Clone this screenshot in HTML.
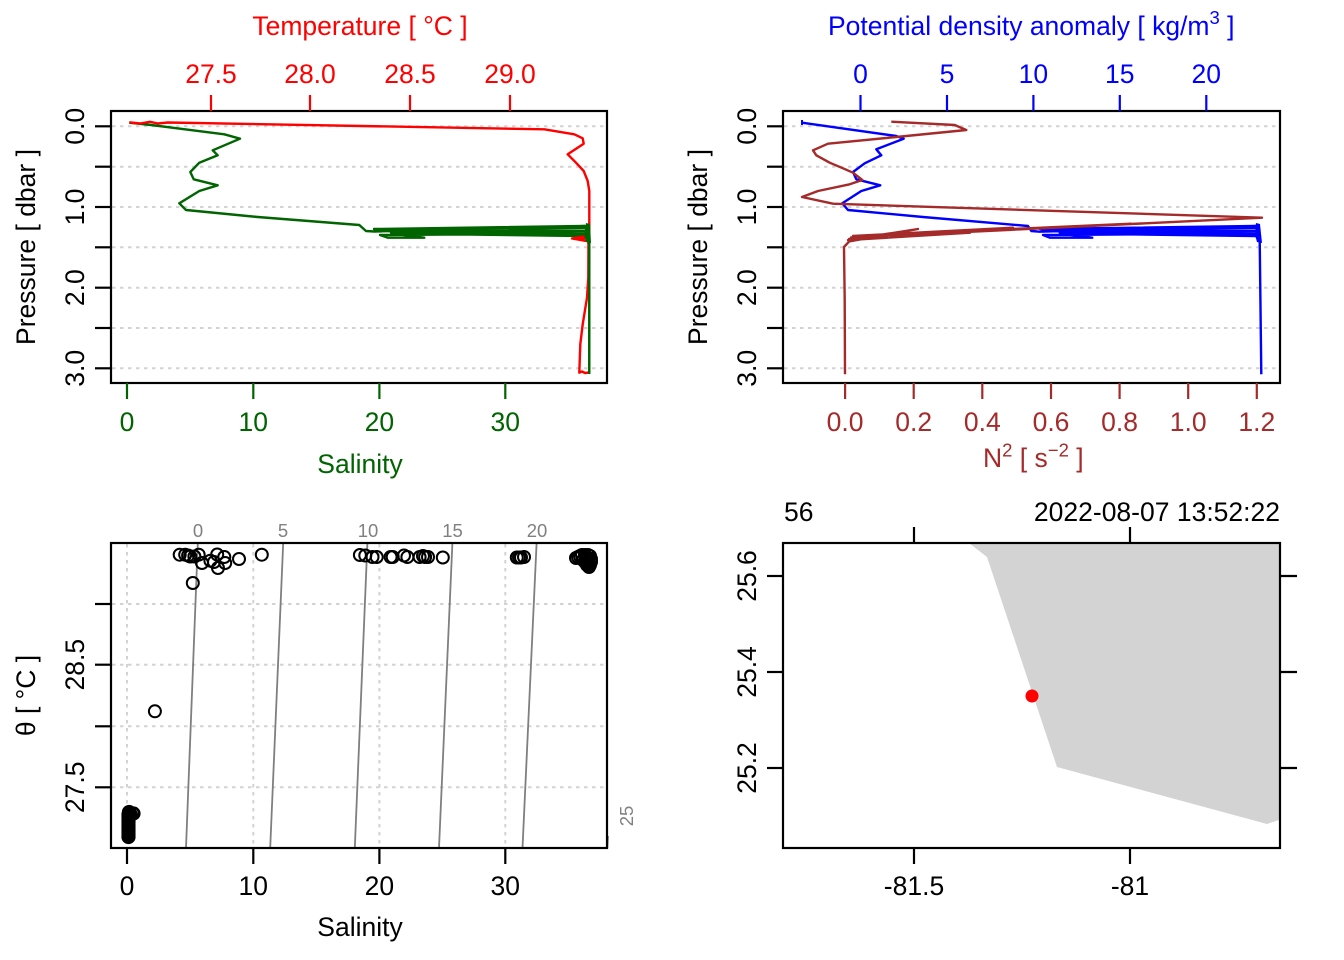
<!DOCTYPE html>
<html><head><meta charset="utf-8"><style>
html,body{margin:0;padding:0;background:#fff;}
svg{display:block;}
text{font-family:"Liberation Sans",Arial,sans-serif;}
</style></head><body>
<svg width="1344" height="960" viewBox="0 0 1344 960" xmlns="http://www.w3.org/2000/svg">
<rect width="1344" height="960" fill="#fff"/>

<!-- ============ PANEL 1 ============ -->
<g stroke="#d3d3d3" stroke-width="2" stroke-dasharray="3.5,4.5">
<line x1="112" y1="126.3" x2="607" y2="126.3"/>
<line x1="112" y1="166.7" x2="607" y2="166.7"/>
<line x1="112" y1="207" x2="607" y2="207"/>
<line x1="112" y1="247.3" x2="607" y2="247.3"/>
<line x1="112" y1="287.7" x2="607" y2="287.7"/>
<line x1="112" y1="328" x2="607" y2="328"/>
<line x1="112" y1="368.3" x2="607" y2="368.3"/>
</g>
<path d="M129.3,122.7 L151,125 L224.3,134.3 L240,138.7 L212.7,150.3 L217.7,155.3 L199.3,162.7 L190.3,172 L193.7,179.3 L217.7,185.3 L199.3,191 L179.3,203.3 L186,210 L257.7,217 L359.3,225 L366,231 L374.3,231.5 L585,226 L374,229 L585,228 L376,230.5 L585,231 L391,232.7 L585,233.5 L380,235 L388,237.7 L424.3,237.7 L392,233.5 L585,236 L588,240 L589.3,250 L589.3,374" fill="none" stroke="#006400" stroke-width="2.4" stroke-linejoin="round"/>
<path d="M129.3,122.3 L140,123.5 L150,121.8 L158,123.5 L167.7,122.5 L544.3,129.3 L574.3,134.3 L582.7,138.3 L583.7,143.7 L567.7,154.3 L576,162.7 L583.7,171 L587.7,181 L589.3,191 L589.3,233 L586,236 L572,238.5 L586,241 L588.5,238 L588.3,277.7 L587,297.7 L582.7,324.3 L580.3,344.3 L579.3,372.7 L582,371.5 L585,373 L589,372.5" fill="none" stroke="#ff0000" stroke-width="2.4" stroke-linejoin="round"/>
<path d="M575,238 L585,235 L585,241 Z" fill="#ff0000"/>
<path d="M586,223 L590,224 L591,243 L586,242 L584,235 Z" fill="#006400"/>
<line x1="589.3" y1="240" x2="589.3" y2="374" stroke="#006400" stroke-width="2.4"/>
<rect x="111" y="111" width="496" height="272" fill="none" stroke="#000" stroke-width="2.2"/>
<!-- left ticks -->
<g stroke="#000" stroke-width="2.2">
<line x1="95" y1="126.3" x2="111" y2="126.3"/><line x1="95" y1="166.7" x2="111" y2="166.7"/>
<line x1="95" y1="207" x2="111" y2="207"/><line x1="95" y1="247.3" x2="111" y2="247.3"/>
<line x1="95" y1="287.7" x2="111" y2="287.7"/><line x1="95" y1="328" x2="111" y2="328"/>
<line x1="95" y1="368.3" x2="111" y2="368.3"/>
</g>
<g stroke="#ff0000" stroke-width="2.2">
<line x1="211" y1="95" x2="211" y2="111"/><line x1="310" y1="95" x2="310" y2="111"/>
<line x1="410" y1="95" x2="410" y2="111"/><line x1="510" y1="95" x2="510" y2="111"/>
</g>
<g stroke="#006400" stroke-width="2.2">
<line x1="127" y1="383" x2="127" y2="399"/><line x1="253.3" y1="383" x2="253.3" y2="399"/>
<line x1="379.4" y1="383" x2="379.4" y2="399"/><line x1="505.3" y1="383" x2="505.3" y2="399"/>
</g>
<g font-size="26.5" fill="#ff0000" text-anchor="middle">
<text x="360" y="35">Temperature [ °C ]</text>
<text x="211" y="83">27.5</text><text x="310" y="83">28.0</text>
<text x="410" y="83">28.5</text><text x="510" y="83">29.0</text>
</g>
<g font-size="26.5" fill="#006400" text-anchor="middle">
<text x="127" y="431">0</text><text x="253.3" y="431">10</text>
<text x="379.4" y="431">20</text><text x="505.3" y="431">30</text>
<text x="360" y="473">Salinity</text>
</g>
<g font-size="26.5" fill="#000" text-anchor="middle">
<text transform="translate(84,126.3) rotate(-90)">0.0</text>
<text transform="translate(84,207) rotate(-90)">1.0</text>
<text transform="translate(84,287.7) rotate(-90)">2.0</text>
<text transform="translate(84,368.3) rotate(-90)">3.0</text>
<text transform="translate(35,247) rotate(-90)">Pressure [ dbar ]</text>
</g>

<!-- ============ PANEL 2 ============ -->
<g stroke="#d3d3d3" stroke-width="2" stroke-dasharray="3.5,4.5">
<line x1="784" y1="126.3" x2="1279" y2="126.3"/>
<line x1="784" y1="166.7" x2="1279" y2="166.7"/>
<line x1="784" y1="207" x2="1279" y2="207"/>
<line x1="784" y1="247.3" x2="1279" y2="247.3"/>
<line x1="784" y1="287.7" x2="1279" y2="287.7"/>
<line x1="784" y1="328" x2="1279" y2="328"/>
<line x1="784" y1="368.3" x2="1279" y2="368.3"/>
</g>
<path d="M802,122.7 L896.3,136 L903.7,138.7 L876.3,149.3 L881.3,155.3 L864.7,163.3 L853,172 L856.3,179.3 L880.3,185.3 L861.3,191 L842.3,203.3 L848,210 L923,217 L1028,226 L1031.3,231 L1039.7,231.7 L1256,226 L1040,229 L1256,228 L1042,230.5 L1256,231 L1059.7,232.7 L1256,233.5 L1043,235 L1050,237.7 L1092.3,237.7 L1060,233.5 L1256,236 L1259.7,240 L1261.3,374.3" fill="none" stroke="#0000ff" stroke-width="2.4" stroke-linejoin="round"/>
<path d="M1256,223 L1260,224 L1262,243 L1257,242 L1255,235 Z" fill="#0000ff"/>
<line x1="802" y1="120" x2="802" y2="125" stroke="#0000ff" stroke-width="2"/>
<path d="M891.3,121.7 L954.7,125 L966.3,130 L896.3,137 L828,143.7 L813,150.3 L816.3,155.3 L829.7,162.7 L843,168.3 L853,172.7 L862.3,180 L849.7,184.3 L818,191 L802,197 L833,203.7 L1262,217.7 L851,237.5 L1131,223.7 L853,236 L1013,227.7 L849,239 L970,232.7 L848,240 L918,229 L849,241.5 L848,242.7 L844,247 L844.7,300 L845,374.3" fill="none" stroke="#a52a2a" stroke-width="2.4" stroke-linejoin="round"/>
<rect x="783" y="111" width="497" height="272" fill="none" stroke="#000" stroke-width="2.2"/>
<g stroke="#000" stroke-width="2.2">
<line x1="767" y1="126.3" x2="783" y2="126.3"/><line x1="767" y1="166.7" x2="783" y2="166.7"/>
<line x1="767" y1="207" x2="783" y2="207"/><line x1="767" y1="247.3" x2="783" y2="247.3"/>
<line x1="767" y1="287.7" x2="783" y2="287.7"/><line x1="767" y1="328" x2="783" y2="328"/>
<line x1="767" y1="368.3" x2="783" y2="368.3"/>
</g>
<g stroke="#0000ff" stroke-width="2.2">
<line x1="860.5" y1="95" x2="860.5" y2="111"/><line x1="947" y1="95" x2="947" y2="111"/>
<line x1="1033.4" y1="95" x2="1033.4" y2="111"/><line x1="1119.8" y1="95" x2="1119.8" y2="111"/>
<line x1="1206.3" y1="95" x2="1206.3" y2="111"/>
</g>
<g stroke="#a52a2a" stroke-width="2.2">
<line x1="845.1" y1="383" x2="845.1" y2="399"/><line x1="913.7" y1="383" x2="913.7" y2="399"/>
<line x1="982.3" y1="383" x2="982.3" y2="399"/><line x1="1051" y1="383" x2="1051" y2="399"/>
<line x1="1119.6" y1="383" x2="1119.6" y2="399"/><line x1="1188.2" y1="383" x2="1188.2" y2="399"/>
<line x1="1256.8" y1="383" x2="1256.8" y2="399"/>
</g>
<g font-size="26.5" fill="#0000ff">
<text x="828" y="35">Potential density anomaly [ kg/m<tspan font-size="18.5" dy="-11">3</tspan><tspan dy="11"> ]</tspan></text>
</g>
<g font-size="26.5" fill="#0000ff" text-anchor="middle">
<text x="860.5" y="83">0</text><text x="947" y="83">5</text>
<text x="1033.4" y="83">10</text><text x="1119.8" y="83">15</text><text x="1206.3" y="83">20</text>
</g>
<g font-size="26.5" fill="#a52a2a" text-anchor="middle">
<text x="845.1" y="431">0.0</text><text x="913.7" y="431">0.2</text>
<text x="982.3" y="431">0.4</text><text x="1051" y="431">0.6</text>
<text x="1119.6" y="431">0.8</text><text x="1188.2" y="431">1.0</text>
<text x="1256.8" y="431">1.2</text>
</g>
<text x="983" y="467" font-size="26.5" fill="#a52a2a">N<tspan font-size="18.5" dy="-10.5">2</tspan><tspan dy="10.5"> [ s</tspan><tspan font-size="18.5" dy="-10.5">−2</tspan><tspan dy="10.5"> ]</tspan></text>
<g font-size="26.5" fill="#000" text-anchor="middle">
<text transform="translate(756,126.3) rotate(-90)">0.0</text>
<text transform="translate(756,207) rotate(-90)">1.0</text>
<text transform="translate(756,287.7) rotate(-90)">2.0</text>
<text transform="translate(756,368.3) rotate(-90)">3.0</text>
<text transform="translate(707,247) rotate(-90)">Pressure [ dbar ]</text>
</g>

<!-- ============ PANEL 3 ============ -->
<g stroke="#d3d3d3" stroke-width="2" stroke-dasharray="3.5,4.5">
<line x1="127" y1="544" x2="127" y2="847"/>
<line x1="253.3" y1="544" x2="253.3" y2="847"/>
<line x1="379.4" y1="544" x2="379.4" y2="847"/>
<line x1="505.3" y1="544" x2="505.3" y2="847"/>
<line x1="112" y1="604" x2="607" y2="604"/>
<line x1="112" y1="664.7" x2="607" y2="664.7"/>
<line x1="112" y1="726.3" x2="607" y2="726.3"/>
<line x1="112" y1="787.3" x2="607" y2="787.3"/>
</g>
<g stroke="#7f7f7f" stroke-width="1.8">
<line x1="197.8" y1="543" x2="186" y2="848"/>
<line x1="283.2" y1="543" x2="270.2" y2="848"/>
<line x1="367.4" y1="543" x2="354.8" y2="848"/>
<line x1="452.4" y1="543" x2="439" y2="848"/>
<line x1="536.6" y1="543" x2="522.5" y2="848"/>
<line x1="608" y1="836" x2="607.4" y2="848"/>
</g>
<g font-size="18.5" fill="#808080" text-anchor="middle">
<text x="198" y="537">0</text><text x="283" y="537">5</text>
<text x="368" y="537">10</text><text x="452.5" y="537">15</text>
<text x="537" y="537">20</text>
<text transform="translate(633,816) rotate(-90)">25</text>
</g>
<g fill="none" stroke="#000" stroke-width="2">
<circle cx="179.7" cy="554.7" r="6"/><circle cx="185.2" cy="554.7" r="6"/>
<circle cx="188.1" cy="555.5" r="6"/><circle cx="190.2" cy="556.5" r="6"/>
<circle cx="194.4" cy="556.5" r="6"/><circle cx="198.7" cy="554.7" r="6"/>
<circle cx="202" cy="563" r="6"/><circle cx="210.4" cy="560.7" r="6"/>
<circle cx="217.2" cy="554.5" r="6"/><circle cx="218" cy="568" r="6"/>
<circle cx="214" cy="562" r="6"/>
<circle cx="224.3" cy="557" r="6"/><circle cx="225.2" cy="563" r="6"/>
<circle cx="239" cy="559" r="6"/><circle cx="261.8" cy="554.7" r="6"/>
<circle cx="192.8" cy="583" r="6"/>
<circle cx="359.9" cy="555" r="6"/><circle cx="365.3" cy="555.5" r="6"/>
<circle cx="372.5" cy="557" r="6"/><circle cx="376.7" cy="557" r="6"/>
<circle cx="390.6" cy="557" r="6"/><circle cx="392.7" cy="557" r="6"/>
<circle cx="404" cy="555.5" r="6"/><circle cx="407.4" cy="557" r="6"/>
<circle cx="419.6" cy="557" r="6"/><circle cx="423" cy="556" r="6"/>
<circle cx="425.1" cy="557" r="6"/><circle cx="428" cy="557" r="6"/>
<circle cx="442.8" cy="557.5" r="6"/>
<circle cx="516.8" cy="557.5" r="6"/><circle cx="519" cy="557.5" r="6"/>
<circle cx="521" cy="557.5" r="6"/><circle cx="524" cy="557" r="6"/>
<circle cx="154.9" cy="711.3" r="6"/>
<circle cx="576" cy="558" r="6"/><circle cx="578" cy="557" r="6"/>
<circle cx="580" cy="556" r="6"/><circle cx="582" cy="555" r="6"/>
<circle cx="585" cy="555" r="6"/><circle cx="588" cy="555" r="6"/>
<circle cx="590" cy="556" r="6"/><circle cx="591" cy="559" r="6"/>
<circle cx="591" cy="562" r="6"/><circle cx="590" cy="565" r="6"/>
<circle cx="589" cy="567" r="6"/><circle cx="587" cy="565" r="6"/>
<circle cx="585" cy="562" r="6"/><circle cx="583" cy="560" r="6"/>
</g>
<g fill="none" stroke="#000" stroke-width="2.6">
<circle cx="129" cy="812" r="5.8"/><circle cx="128.5" cy="814.5" r="5.8"/>
<circle cx="128.5" cy="817" r="5.8"/><circle cx="128.5" cy="819.5" r="5.8"/>
<circle cx="128.5" cy="822" r="5.8"/><circle cx="128.5" cy="824.5" r="5.8"/>
<circle cx="128.5" cy="827" r="5.8"/><circle cx="128.5" cy="829.5" r="5.8"/>
<circle cx="128.5" cy="832" r="5.8"/><circle cx="128.5" cy="834.5" r="5.8"/>
<circle cx="128.5" cy="837" r="5.8"/>
<circle cx="133.5" cy="813.5" r="5.8"/><circle cx="131" cy="815" r="5.8"/>
</g>
<path d="M579,553 L590,551 L595,556 L596,566 L591,572 L586,570 L580,562 Z" fill="#000"/>
<rect x="111" y="543" width="496" height="305" fill="none" stroke="#000" stroke-width="2.2"/>
<g stroke="#000" stroke-width="2.2">
<line x1="95" y1="604" x2="111" y2="604"/><line x1="95" y1="664.7" x2="111" y2="664.7"/>
<line x1="95" y1="726.3" x2="111" y2="726.3"/><line x1="95" y1="787.3" x2="111" y2="787.3"/>
<line x1="127" y1="848" x2="127" y2="864"/><line x1="253.3" y1="848" x2="253.3" y2="864"/>
<line x1="379.4" y1="848" x2="379.4" y2="864"/><line x1="505.3" y1="848" x2="505.3" y2="864"/>
</g>
<g font-size="26.5" fill="#000" text-anchor="middle">
<text x="127" y="895">0</text><text x="253.3" y="895">10</text>
<text x="379.4" y="895">20</text><text x="505.3" y="895">30</text>
<text x="360" y="936">Salinity</text>
<text transform="translate(84,664.7) rotate(-90)">28.5</text>
<text transform="translate(84,787.3) rotate(-90)">27.5</text>
<text transform="translate(35,695.5) rotate(-90)">θ [ °C ]</text>
</g>

<!-- ============ PANEL 4 (map) ============ -->
<path d="M969,543 L987,557 L1057,767 L1267,824 L1280,819.6 L1280,543 Z" fill="#d3d3d3"/>
<circle cx="1032" cy="696" r="6.5" fill="#ff0000"/>
<rect x="783" y="543" width="497" height="305" fill="none" stroke="#000" stroke-width="2.2"/>
<g stroke="#000" stroke-width="2.2">
<line x1="914" y1="527" x2="914" y2="543"/><line x1="1130" y1="527" x2="1130" y2="543"/>
<line x1="914" y1="848" x2="914" y2="864"/><line x1="1130" y1="848" x2="1130" y2="864"/>
<line x1="767" y1="576" x2="783" y2="576"/><line x1="767" y1="672" x2="783" y2="672"/>
<line x1="767" y1="768" x2="783" y2="768"/>
<line x1="1280" y1="576" x2="1297" y2="576"/><line x1="1280" y1="672" x2="1297" y2="672"/>
<line x1="1280" y1="768" x2="1297" y2="768"/>
</g>
<g font-size="26.5" fill="#000">
<text x="784" y="521">56</text>
<text x="1280" y="521" text-anchor="end">2022-08-07 13:52:22</text>
<text x="914" y="895" text-anchor="middle">-81.5</text>
<text x="1130" y="895" text-anchor="middle">-81</text>
<text transform="translate(756,576) rotate(-90)" text-anchor="middle">25.6</text>
<text transform="translate(756,672) rotate(-90)" text-anchor="middle">25.4</text>
<text transform="translate(756,768) rotate(-90)" text-anchor="middle">25.2</text>
</g>
</svg>
</body></html>
